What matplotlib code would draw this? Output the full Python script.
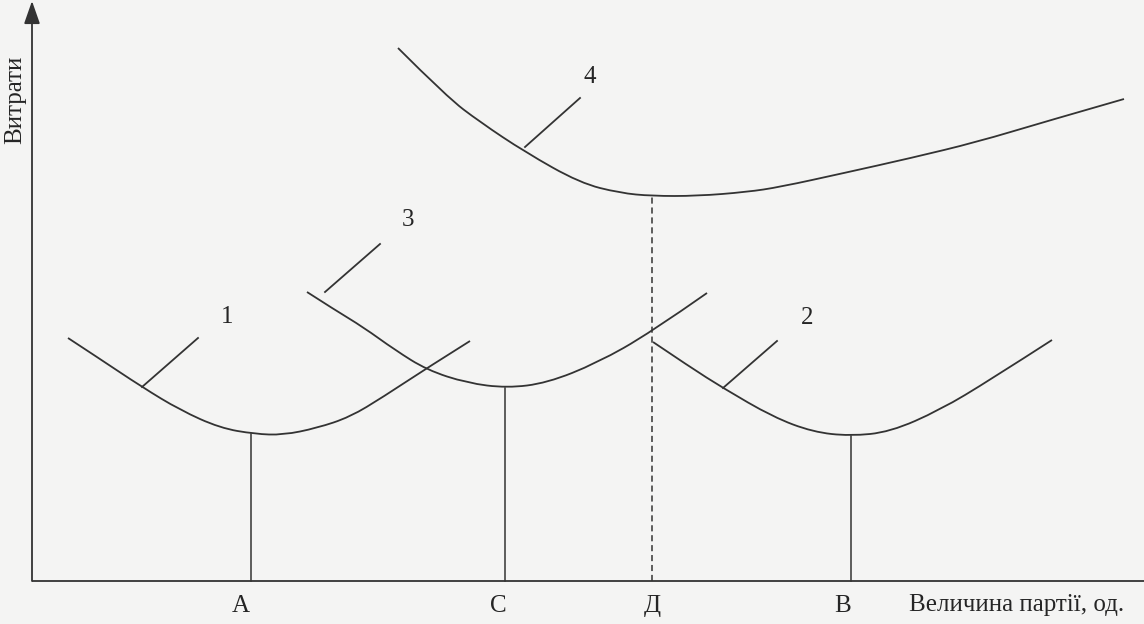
import matplotlib
matplotlib.use("Agg")
import matplotlib.pyplot as plt
from matplotlib.path import Path
from matplotlib.patches import PathPatch

plt.rcParams["font.family"] = ["Liberation Serif", "DejaVu Serif"]

# curve points (x to the right of the cost axis, y above the lot-size axis)
curve1_x = [36, 65, 110, 148, 188, 223, 251, 285, 318, 351, 395, 438]
curve1_y = [243, 224, 194, 171, 153, 147, 146, 153, 164, 184, 213, 240]

curve3_x = [275, 303, 331, 363, 395, 435, 475, 515, 565, 618, 675]
curve3_y = [289, 271, 254, 231, 211, 198, 193, 198, 218, 248, 288]

curve2_x = [621, 658, 691, 741, 781, 818, 858, 908, 958, 1020]
curve2_y = [239, 214, 193, 164, 149, 145, 149, 171, 201, 241]

curve4_x = [366, 415, 448, 493, 548, 588, 620, 665, 715, 748, 812, 879, 945, 1012, 1092]
curve4_y = [533, 484, 459, 429, 398, 388, 385, 385, 389, 394, 408, 423, 439, 459, 482]

# optimum lot sizes and the cost at the minimum of each curve
opt_names = ["А", "С", "В"]
opt_x = [219, 473, 819]
opt_y = [147, 193, 145]
opt_label_x = [209, 466, 811]

total_opt_x = 620
total_opt_y = 385

# curve number labels and their leader lines
curve_names = ["1", "3", "2", "4"]
leader_start = [(110, 194), (293, 289), (691, 193), (493, 434)]
leader_end = [(166, 243), (348, 337), (745, 240), (548, 483)]
name_pos = [(195, 264), (376, 361), (775, 263), (558, 504)]

line_color = "#333333"
text_color = "#252525"
bg = "#f4f4f3"
fs = 18


def smooth_path(xs, ys):
    # quadratic bezier segments through the midpoints, read points act as control points
    pts = list(zip(xs, ys))
    verts = [pts[0]]
    codes = [Path.MOVETO]
    for i in range(1, len(pts) - 1):
        nxt = pts[i + 1] if i == len(pts) - 2 else (
            (pts[i][0] + pts[i + 1][0]) / 2, (pts[i][1] + pts[i + 1][1]) / 2)
        verts += [pts[i], nxt]
        codes += [Path.CURVE3, Path.CURVE3]
    return Path(verts, codes)


fig = plt.figure(figsize=(11.44, 6.24), dpi=100, facecolor=bg)
ax = fig.add_axes([0, 0, 1, 1])
ax.set_facecolor(bg)
ax.set_xlim(-32, 1112)
ax.set_ylim(-43, 581)
ax.axis("off")

# axes of the diagram
ax.plot([0, 1112], [0, 0], color=line_color, lw=1.3, solid_capstyle="butt")
ax.annotate("", xy=(0, 580), xytext=(0, 0),
            arrowprops=dict(arrowstyle="-|>,head_length=1.0,head_width=0.35",
                            mutation_scale=14, color=line_color, lw=1.3,
                            shrinkA=0, shrinkB=0))

for xs, ys in [(curve1_x, curve1_y), (curve3_x, curve3_y),
               (curve2_x, curve2_y), (curve4_x, curve4_y)]:
    ax.add_patch(PathPatch(smooth_path(xs, ys), facecolor="none",
                           edgecolor=line_color, lw=1.3))

for (x0, y0), (x1, y1), name, (tx, ty) in zip(leader_start, leader_end, curve_names, name_pos):
    ax.plot([x0, x1], [y0, y1], color=line_color, lw=1.3)
    ax.text(tx, ty, name, fontsize=fs, ha="center", va="center", color=text_color)

for x, y, name, lx in zip(opt_x, opt_y, opt_names, opt_label_x):
    ax.plot([x, x], [0, y], color=line_color, lw=1.1)
    ax.text(lx, -25, name, fontsize=fs, ha="center", va="center", color=text_color)

ax.plot([total_opt_x, total_opt_x], [0, total_opt_y], color=line_color, lw=1.1,
        linestyle=(0, (4, 2.5)))
ax.text(total_opt_x, -25, "Д", fontsize=fs, ha="center", va="center", color=text_color)

ax.text(985, -24, "Величина партії, од.", fontsize=fs, ha="center", va="center",
        color=text_color)
ax.text(-17, 481, "Витрати", fontsize=fs, rotation=90, ha="center", va="center",
        color=text_color)

fig.savefig("out.png", dpi=100, facecolor=bg)
